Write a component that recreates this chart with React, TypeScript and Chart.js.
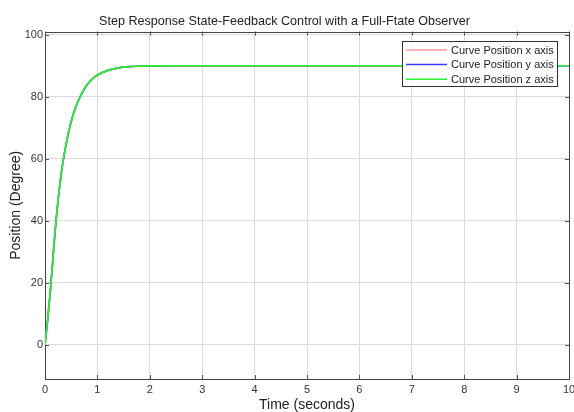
import React, { useEffect, useRef } from "react";
import { Chart, registerables } from "chart.js";

Chart.register(...registerables);

const timeSeconds = [0, 0.05, 0.1, 0.15, 0.2, 0.3, 0.4, 0.5, 0.6, 0.7, 0.8, 0.9, 1.0, 1.2, 1.4, 1.6, 1.8, 2.0, 2.5, 3, 4, 5, 6, 7, 8, 9, 10];
const positionX = [0, 8, 17, 27.5, 38, 54, 64.5, 72, 77.3, 81, 83.8, 85.7, 87, 88.5, 89.3, 89.7, 89.85, 89.93, 90, 90, 90, 90, 90, 90, 90, 90, 90];
const positionY = [0, 8, 17, 27.5, 38, 54, 64.5, 72, 77.3, 81, 83.8, 85.7, 87, 88.5, 89.3, 89.7, 89.85, 89.93, 90, 90, 90, 90, 90, 90, 90, 90, 90];
const positionZ = [0, 8, 17, 27.5, 38, 54, 64.5, 72, 77.3, 81, 83.8, 85.7, 87, 88.5, 89.3, 89.7, 89.85, 89.93, 90, 90, 90, 90, 90, 90, 90, 90, 90];
const seriesLabels = ["Curve Position x axis", "Curve Position y axis", "Curve Position z axis"];
const seriesColors = ["#ff9a9a", "#3b3bff", "#2af52a"];
const xTicks = [0, 1, 2, 3, 4, 5, 6, 7, 8, 9, 10];
const yTicks = [0, 20, 40, 60, 80, 100];

const FONT = "'Liberation Sans', Arial, sans-serif";

const boxPlugin = {
  id: "matlabBox",
  beforeDatasetsDraw(chart: any) {
    const { ctx, chartArea: a, scales } = chart;
    ctx.save();
    ctx.strokeStyle = "#555555";
    ctx.lineWidth = 1;
    ctx.beginPath();
    const tl = 4;
    for (const v of xTicks) {
      const px = Math.round(scales.x.getPixelForValue(v)) + 0.5;
      ctx.moveTo(px, a.bottom);
      ctx.lineTo(px, a.bottom - tl);
      ctx.moveTo(px, a.top);
      ctx.lineTo(px, a.top + tl);
    }
    for (const v of yTicks) {
      const py = Math.round(scales.y.getPixelForValue(v)) + 0.5;
      ctx.moveTo(a.left, py);
      ctx.lineTo(a.left + tl, py);
      ctx.moveTo(a.right, py);
      ctx.lineTo(a.right - tl, py);
    }
    ctx.stroke();
    ctx.strokeStyle = "#444444";
    ctx.strokeRect(Math.round(a.left) + 0.5, Math.round(a.top) + 0.5, Math.round(a.right - a.left), Math.round(a.bottom - a.top));
    ctx.restore();
  },
};

const legendPlugin = {
  id: "matlabLegend",
  afterDatasetsDraw(chart: any) {
    const { ctx } = chart;
    const x0 = 402.5, y0 = 41.5, w = 155, h = 45;
    ctx.save();
    ctx.fillStyle = "#ffffff";
    ctx.fillRect(x0, y0, w, h);
    ctx.strokeStyle = "#333333";
    ctx.lineWidth = 1;
    ctx.strokeRect(x0, y0, w, h);
    ctx.font = `11px ${FONT}`;
    ctx.textBaseline = "middle";
    chart.data.datasets.forEach((ds: any, i: number) => {
      const ry = 50 + i * 14.6;
      ctx.strokeStyle = ds.borderColor;
      ctx.lineWidth = 1.5;
      ctx.beginPath();
      ctx.moveTo(406, ry);
      ctx.lineTo(447, ry);
      ctx.stroke();
      ctx.fillStyle = "#222222";
      ctx.fillText(ds.label, 451, ry + 0.5);
    });
    ctx.restore();
  },
};

export default function App() {
  const ref = useRef<HTMLCanvasElement>(null);
  useEffect(() => {
    document.body.style.margin = "0";
    document.body.style.overflow = "hidden";
    const mk = (vals: number[], i: number) => ({
      label: seriesLabels[i],
      data: timeSeconds.map((t, k) => ({ x: t, y: vals[k] })),
      borderColor: seriesColors[i],
      backgroundColor: seriesColors[i],
      borderWidth: 1.7,
      pointRadius: 0,
      order: 2 - i,
      cubicInterpolationMode: "monotone" as const,
      fill: false,
    });
    const chart = new Chart(ref.current!, {
      type: "line",
      data: { datasets: [mk(positionX, 0), mk(positionY, 1), mk(positionZ, 2)] },
      options: {
        animation: false,
        responsive: false,
        layout: { padding: { left: 0, right: 5, top: 0, bottom: 0 } },
        plugins: {
          legend: { display: false },
          tooltip: { enabled: false },
          title: {
            display: true,
            text: "Step Response State-Feedback Control with a Full-Ftate Observer",
            color: "#222222",
            font: { family: FONT, size: 12.6, weight: "normal" },
            padding: { top: 13.5, bottom: 3 },
          },
        },
        scales: {
          x: {
            type: "linear",
            min: 0,
            max: 10,
            afterFit: (s: any) => { s.height = 33; s.paddingRight = 0; s.paddingLeft = 0; },
            afterBuildTicks: (s: any) => { s.ticks = xTicks.map((v) => ({ value: v })); },
            grid: { color: "#dadada", drawTicks: false },
            border: { display: false },
            ticks: { color: "#333333", font: { family: FONT, size: 11 }, padding: 4, maxRotation: 0, autoSkip: false },
            title: { display: true, text: "Time (seconds)", color: "#222222", font: { family: FONT, size: 14, lineHeight: 1 }, padding: { top: 0, bottom: 0 } },
          },
          y: {
            type: "linear",
            min: -11,
            max: 101,
            afterFit: (s: any) => { s.width = 45; },
            afterBuildTicks: (s: any) => { s.ticks = yTicks.map((v) => ({ value: v })); },
            grid: { color: "#dadada", drawTicks: false },
            border: { display: false },
            ticks: { color: "#333333", font: { family: FONT, size: 11 }, padding: 2 },
            title: { display: true, text: "Position (Degree)", color: "#222222", font: { family: FONT, size: 14, lineHeight: 1 }, padding: { top: 9, bottom: 0 } },
          },
        },
      },
      plugins: [boxPlugin, legendPlugin],
    });
    return () => chart.destroy();
  }, []);
  return <canvas ref={ref} width={574} height={412} style={{ display: "block" }} />;
}
